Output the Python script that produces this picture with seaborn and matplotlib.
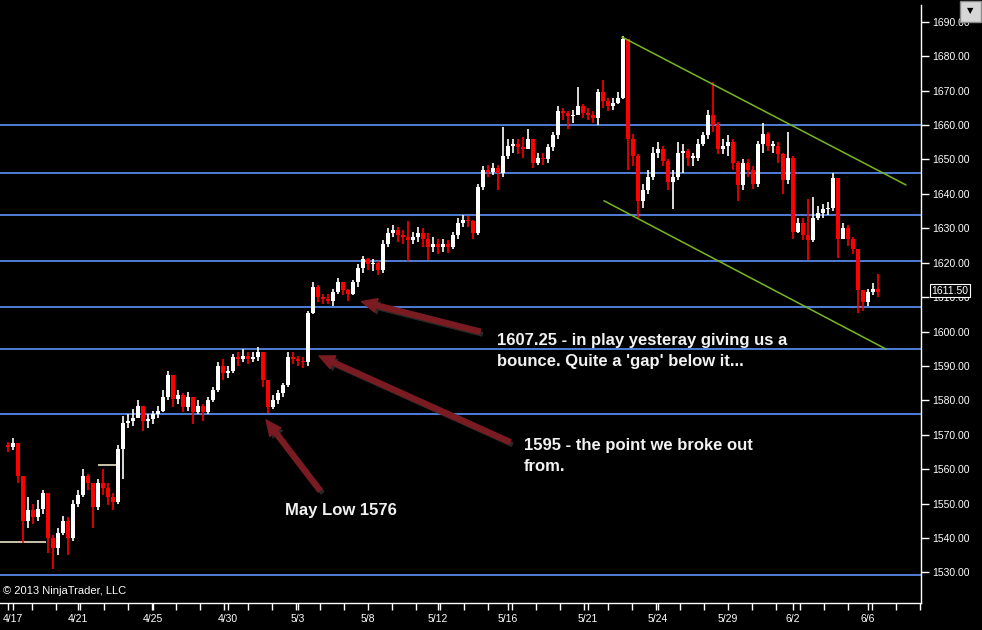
import numpy as np
import pandas as pd
import matplotlib
matplotlib.use("Agg")
import matplotlib.pyplot as plt
import matplotlib.patheffects as pe
import matplotlib.transforms as mtransforms
from matplotlib.patches import Rectangle
from matplotlib.ticker import FixedLocator, MultipleLocator, FuncFormatter
import seaborn as sns

# price bars (open of each bar = previous close)
first_open = 1567.0
close = [
    1566.5, 1567.5, 1558.0, 1545.0, 1548.0, 1546.0, 1548.5, 1553.0, 1540.0, 1537.0,
    1541.5, 1545.0, 1540.0, 1550.0, 1552.5, 1558.0, 1556.0, 1549.0, 1556.0, 1554.5,
    1552.0, 1550.5, 1566.0, 1573.5, 1574.0, 1575.0, 1578.5, 1574.0, 1574.5, 1576.0,
    1577.0, 1581.0, 1587.5, 1580.5, 1581.5, 1578.0, 1581.0, 1576.5, 1578.5, 1576.5,
    1580.0, 1583.0, 1590.0, 1588.0, 1588.5, 1592.5, 1592.0, 1593.0, 1592.0, 1592.5,
    1594.0, 1586.0, 1578.0, 1580.0, 1582.0, 1584.5, 1592.5, 1592.0, 1591.5, 1591.0,
    1605.5, 1613.0, 1610.0, 1609.5, 1609.0, 1611.5, 1614.5, 1612.0, 1611.0, 1614.5,
    1618.5, 1621.0, 1619.5, 1620.0, 1618.0, 1625.5, 1628.5, 1629.5, 1628.0, 1627.5,
    1626.5, 1627.5, 1628.5, 1627.0, 1624.5, 1625.5, 1624.5, 1625.5, 1624.5, 1628.0,
    1631.5, 1632.5, 1632.0, 1628.5, 1642.0, 1647.0, 1646.5, 1647.5, 1646.0, 1651.0,
    1654.0, 1654.5, 1653.5, 1653.0, 1656.0, 1649.0, 1650.5, 1650.0, 1653.5, 1657.0,
    1664.0, 1663.5, 1662.5, 1663.0, 1665.5, 1663.5, 1663.0, 1662.0, 1669.5, 1667.0,
    1665.5, 1666.5, 1668.0, 1685.0, 1656.0, 1651.0, 1638.0, 1641.0, 1645.0, 1652.0,
    1653.0, 1649.5, 1643.5, 1645.0, 1652.0, 1652.5, 1650.5, 1650.5, 1654.5, 1657.0,
    1663.0, 1660.0, 1653.0, 1654.0, 1655.0, 1649.0, 1642.5, 1649.0, 1647.0, 1643.0,
    1654.5, 1657.5, 1654.0, 1654.0, 1651.5, 1644.0, 1650.5, 1629.0, 1631.5, 1628.0,
    1626.5, 1633.0, 1634.5, 1635.5, 1636.0, 1644.5, 1627.0, 1630.0, 1627.0, 1624.0,
    1612.0, 1608.5, 1611.5, 1612.5, 1611.5,
]
high = [
    1568.0, 1569.0, 1566.0, 1556.0, 1552.0, 1550.0, 1551.0, 1554.0, 1553.0, 1541.0,
    1543.0, 1546.5, 1546.0, 1551.0, 1554.0, 1560.0, 1558.5, 1556.0, 1557.0, 1560.0,
    1556.0, 1553.0, 1567.0, 1575.5, 1576.0, 1577.5, 1580.0, 1578.5, 1576.0, 1577.0,
    1578.5, 1583.0, 1588.5, 1587.5, 1583.0, 1582.0, 1582.5, 1581.0, 1580.0, 1579.0,
    1581.0, 1584.0, 1591.0, 1592.0, 1590.0, 1593.5, 1594.0, 1595.0, 1594.0, 1594.0,
    1595.5, 1594.0, 1586.0, 1581.5, 1583.0, 1585.0, 1594.0, 1594.0, 1593.0, 1592.5,
    1606.0, 1614.5, 1613.5, 1611.0, 1611.0, 1612.5, 1615.5, 1614.5, 1612.5, 1615.0,
    1619.5, 1622.0, 1621.5, 1621.0, 1620.5, 1626.5, 1630.0, 1631.0, 1630.5, 1629.5,
    1632.0, 1629.0, 1630.5, 1630.0, 1628.5, 1627.5, 1627.0, 1627.0, 1626.5, 1629.0,
    1633.0, 1634.0, 1633.5, 1632.5, 1643.0, 1648.0, 1648.5, 1649.0, 1648.5, 1659.5,
    1656.0, 1656.0, 1656.0, 1656.5, 1659.0, 1656.0, 1652.0, 1652.0, 1654.5, 1658.0,
    1665.5, 1665.0, 1664.0, 1664.5, 1671.0, 1666.0, 1665.0, 1664.0, 1670.5, 1673.0,
    1668.0, 1668.0, 1669.5, 1686.0, 1685.0, 1657.5, 1651.5, 1643.0, 1647.0, 1653.5,
    1655.0, 1654.0, 1650.0, 1647.0, 1655.0, 1654.5, 1653.0, 1652.0, 1656.0, 1658.0,
    1664.5, 1672.6, 1661.0, 1656.0, 1657.0, 1656.0, 1649.5, 1650.0, 1650.0, 1648.0,
    1655.5, 1660.6, 1658.0, 1655.5, 1655.0, 1652.0, 1658.0, 1651.0, 1633.0, 1633.0,
    1638.4, 1639.0, 1636.5, 1637.0, 1637.5, 1646.2, 1644.5, 1631.5, 1631.0, 1627.5,
    1624.0, 1612.0, 1612.5, 1614.0, 1616.7,
]
low = [
    1565.0, 1565.5, 1556.0, 1538.5, 1543.0, 1544.0, 1545.0, 1547.0, 1535.5, 1531.0,
    1535.0, 1541.0, 1535.0, 1539.0, 1549.0, 1552.0, 1554.0, 1543.0, 1548.0, 1552.5,
    1549.5, 1548.0, 1550.0, 1557.0, 1572.0, 1572.5, 1575.0, 1571.0, 1572.0, 1573.0,
    1575.0, 1576.5, 1580.0, 1578.0, 1579.0, 1576.5, 1577.0, 1573.0, 1576.0, 1574.0,
    1576.0, 1579.5, 1582.5, 1586.0, 1586.5, 1588.0, 1590.0, 1591.0, 1590.5, 1591.0,
    1591.5, 1584.0, 1576.3, 1577.5, 1579.0, 1581.0, 1584.0, 1590.5, 1590.0, 1589.5,
    1590.0, 1605.0, 1608.5, 1608.0, 1608.0, 1607.3, 1611.0, 1610.5, 1609.0, 1610.5,
    1613.0, 1617.0, 1618.0, 1617.5, 1616.5, 1617.0, 1624.5, 1627.5, 1626.0, 1625.5,
    1620.5, 1625.5, 1626.0, 1624.5, 1620.8, 1623.0, 1622.5, 1623.0, 1622.7, 1624.0,
    1627.0, 1630.5, 1630.5, 1627.0, 1628.0, 1641.0, 1645.0, 1645.5, 1641.0, 1645.0,
    1650.0, 1652.0, 1651.5, 1650.5, 1653.0, 1647.6, 1648.5, 1648.5, 1649.0, 1652.5,
    1656.0, 1661.5, 1659.0, 1660.5, 1664.0, 1662.0, 1661.5, 1660.5, 1660.0, 1665.0,
    1664.0, 1664.5, 1666.0, 1667.5, 1647.0, 1648.0, 1633.0, 1636.0, 1640.0, 1644.0,
    1650.5, 1648.0, 1641.0, 1635.7, 1644.0, 1646.0, 1648.0, 1648.0, 1649.5, 1654.0,
    1656.0, 1658.0, 1651.7, 1651.5, 1651.0, 1647.0, 1637.8, 1641.0, 1645.0, 1641.5,
    1642.0, 1652.0, 1652.5, 1652.0, 1649.0, 1640.0, 1643.0, 1627.0, 1628.5, 1626.5,
    1620.8, 1626.0, 1632.5, 1633.0, 1634.0, 1635.0, 1621.4, 1627.5, 1625.0, 1622.5,
    1605.4, 1606.0, 1607.5, 1610.5, 1610.0,
]

date_labels = ["4/17", "4/21", "4/25", "4/30", "5/3", "5/8", "5/12",
               "5/16", "5/21", "5/24", "5/29", "6/2", "6/6"]
date_ticks = [1, 14, 29, 44, 58, 72, 86, 100, 116, 130, 144, 157, 172]

# horizontal support / resistance lines
levels = [1660.0, 1646.0, 1633.75, 1620.5, 1607.25, 1595.0, 1576.0, 1529.25]

# prior session lines (price, first bar, last bar)
prior_price = [1538.75, 1561.25]
prior_start = [-2.0, 18.0]
prior_end = [7.6, 22.4]

# channel drawn on the chart
upper_trend_x = [122.8, 179.6]
upper_trend_y = [1685.6, 1642.6]
lower_trend_x = [119.2, 175.6]
lower_trend_y = [1638.0, 1594.9]

sns.set_theme(style="dark", rc={
    "axes.facecolor": "black",
    "figure.facecolor": "black",
    "axes.grid": False,
})
plt.rcParams["font.family"] = ["Liberation Sans", "DejaVu Sans"]

df = pd.DataFrame({
    "open": [first_open] + close[:-1],
    "high": high,
    "low": low,
    "close": close,
})
df["bar"] = np.arange(len(df))
body_lo = df[["open", "close"]].min(axis=1)
body_hi = df[["open", "close"]].max(axis=1)
colors = np.where(df["close"] >= df["open"], "#ffffff", "#ff0000")

fig = plt.figure(figsize=(9.82, 6.30), dpi=100)
ax = fig.add_axes([0.0, 27 / 630, 921 / 982, 598 / 630])
ax.set_facecolor("black")

for lvl in levels:
    ax.axhline(lvl, color="#5a8cf2", lw=1.25, zorder=1)
ax.hlines(prior_price, prior_start, prior_end, color="#fff6dc", lw=1.1, zorder=2)

# candles
ax.vlines(df["bar"], np.minimum(df["low"], body_lo), np.maximum(df["high"], body_hi),
          colors=colors, lw=1.2, zorder=3)
ax.bar(df["bar"], (body_hi - body_lo).clip(lower=0.4), bottom=body_lo,
       width=0.8, color=colors, linewidth=0, zorder=3)

sns.lineplot(x=upper_trend_x, y=upper_trend_y, ax=ax, color="#78b81e", lw=1.1, zorder=4)
sns.lineplot(x=lower_trend_x, y=lower_trend_y, ax=ax, color="#78b81e", lw=1.1, zorder=4)

ax.set_xlim(-1.6, 182.6)
ax.set_ylim(1521.1, 1694.9)

# axes styling
for side in ["left", "top"]:
    ax.spines[side].set_visible(False)
for side in ["right", "bottom"]:
    ax.spines[side].set_color("white")
    ax.spines[side].set_linewidth(1)
ax.yaxis.tick_right()
ax.set_yticks(np.arange(1530, 1691, 10))
ax.yaxis.set_major_formatter(FuncFormatter(lambda v, _: f"{v:.2f}"))
ax.xaxis.set_major_locator(FixedLocator(date_ticks))
ax.set_xticklabels(date_labels)
ax.xaxis.set_minor_locator(MultipleLocator(4.8))
ax.tick_params(axis="y", colors="white", labelsize=7.5, length=6, width=1, pad=2,
               direction="out", right=True, left=False)
ax.tick_params(axis="x", which="both", colors="white", labelsize=7.5, length=5,
               width=1, pad=3, direction="out", bottom=True)
ax.set_xlabel("")
ax.set_ylabel("")

# last price marker (drawn over the 1610.00 label, as on the original)
trans = mtransforms.blended_transform_factory(ax.transAxes, ax.transData)
ax.text(1.011, close[-1] + 0.3, f"{close[-1]:.2f}", transform=trans, color="white",
        fontsize=7.5, ha="left", va="center", clip_on=False, zorder=10,
        bbox=dict(boxstyle="square,pad=0.15", fc="black", ec="white", lw=0.8))

# annotations
arrow_kw = dict(arrowstyle="simple,head_length=1.1,head_width=1.0,tail_width=0.36",
                color="#7a1b22", shrinkA=0, shrinkB=0)
shadow = [pe.SimplePatchShadow(offset=(2, -2), shadow_rgbFace="#3a3a3a", alpha=0.7),
          pe.Normal()]
notes = [
    ((70.7, 1608.7), (94.4, 1600.0), (97.7, 1599.7),
     "1607.25 - in play yesteray giving us a\nbounce. Quite a 'gap' below it..."),
    ((62.2, 1592.9), (100.4, 1567.9), (103.2, 1569.2),
     "1595 - the point we broke out\nfrom."),
    ((51.6, 1574.3), (62.4, 1553.8), (55.4, 1550.2), "May Low 1576"),
]
for tip, tail, txt_pos, txt in notes:
    an = ax.annotate("", xy=tip, xytext=tail, arrowprops=arrow_kw, fontsize=10, zorder=5)
    an.arrow_patch.set_path_effects(shadow)
    ax.text(*txt_pos, txt, color="#f2f2f2", fontsize=12, fontweight="bold",
            ha="left", va="top", linespacing=1.55, zorder=6)

ax.text(3 / 921, 0.012, "\u00a9 2013 NinjaTrader, LLC", transform=ax.transAxes,
        color="white", fontsize=8, ha="left", va="bottom", zorder=6)

# dropdown button in the corner
fig.add_artist(Rectangle((960 / 982, 1 - 22 / 630), 21 / 982, 21 / 630,
                         transform=fig.transFigure, fc="#d6d6d6", ec="#8a8a8a", lw=1))
fig.text(970.5 / 982, 1 - 11 / 630, "\u25bc", color="black", fontsize=6,
         ha="center", va="center", family="DejaVu Sans")

fig.savefig("out.png", dpi=100, facecolor="black")
